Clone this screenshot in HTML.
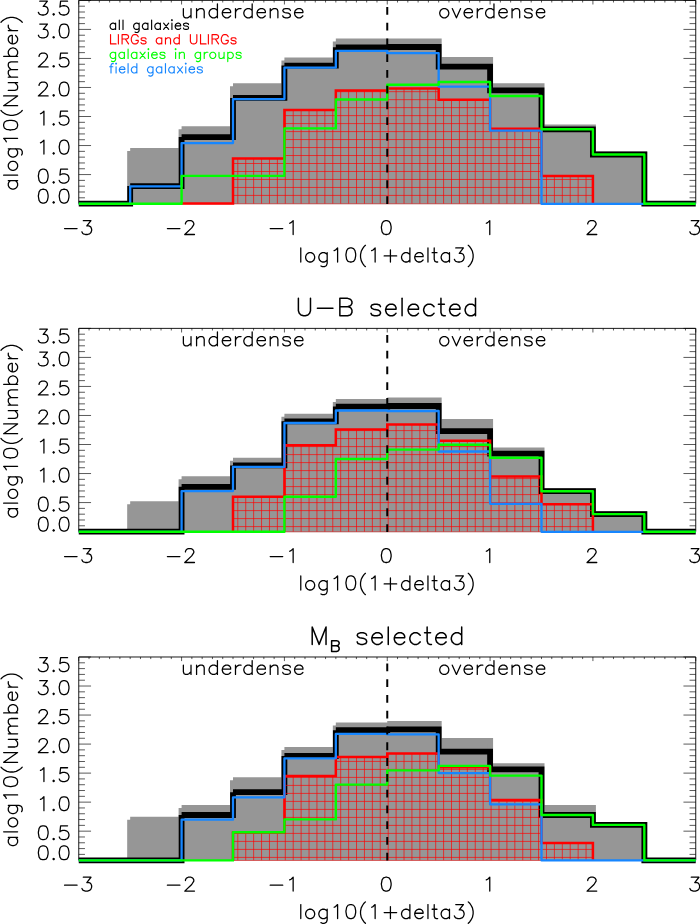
<!DOCTYPE html>
<html><head><meta charset="utf-8"><title>chart</title><style>html,body{margin:0;padding:0;background:#fff;font-family:"Liberation Sans",sans-serif}svg{display:block}</style></head><body>
<svg width="700" height="924" viewBox="0 0 700 924">
<rect width="700" height="924" fill="#fff"/>
<defs>
<clipPath id="cp1"><polygon points="181.59,204.2 181.59,203.6 233,203.6 233,158.5 284.42,158.5 284.42,110.1 335.83,110.1 335.83,90.5 387.25,90.5 387.25,88.5 438.67,88.5 438.67,99.8 490.08,99.8 490.08,128.7 541.5,128.7 541.5,175.9 592.91,175.9 592.91,204.2"/></clipPath>
<clipPath id="fp1"><rect x="0" y="0" width="700" height="206.8"/></clipPath>
<clipPath id="cp2"><polygon points="233,532.2 233,496.8 284.42,496.8 284.42,445.2 335.83,445.2 335.83,429.5 387.25,429.5 387.25,424.4 438.67,424.4 438.67,440.7 490.08,440.7 490.08,476.4 541.5,476.4 541.5,504.2 592.91,504.2 592.91,532.2"/></clipPath>
<clipPath id="fp2"><rect x="0" y="0" width="700" height="534.8"/></clipPath>
<clipPath id="cp3"><polygon points="233,860.8 233,832.5 284.42,832.5 284.42,776 335.83,776 335.83,757 387.25,757 387.25,753.4 438.67,753.4 438.67,767.3 490.08,767.3 490.08,800.1 541.5,800.1 541.5,843 592.91,843 592.91,860.8"/></clipPath>
<clipPath id="fp3"><rect x="0" y="0" width="700" height="863.4"/></clipPath>
<path id="g28" d="M11,-25L9,-23L7,-20L5,-16L4,-11L4,-7L5,-2L7,2L9,5L11,7" vector-effect="non-scaling-stroke" stroke-linecap="round" stroke-linejoin="round"/><path id="g29" d="M3,-25L5,-23L7,-20L9,-16L10,-11L10,-7L9,-2L7,2L5,5L3,7" vector-effect="non-scaling-stroke" stroke-linecap="round" stroke-linejoin="round"/><path id="g2b" d="M4,-9L22,-9M13,-18L13,0" vector-effect="non-scaling-stroke" stroke-linecap="round" stroke-linejoin="round"/><path id="g2d" d="M4,-9L22,-9" vector-effect="non-scaling-stroke" stroke-linecap="round" stroke-linejoin="round"/><path id="g2e" d="M4,-1L5,-2L6,-1L5,0Z" vector-effect="non-scaling-stroke" stroke-linecap="round" stroke-linejoin="round"/><path id="g30" d="M3,-12L3,-10L4,-4L6,-1L9,0L11,0L14,-1L16,-4L17,-9L17,-12L16,-17L14,-20L11,-21L9,-21L6,-20L4,-17L3,-11" vector-effect="non-scaling-stroke" stroke-linecap="round" stroke-linejoin="round"/><path id="g31" d="M6,-17L8,-18L11,-21L11,0" vector-effect="non-scaling-stroke" stroke-linecap="round" stroke-linejoin="round"/><path id="g32" d="M4,-16L4,-17L5,-19L6,-20L8,-21L12,-21L14,-20L15,-19L16,-17L16,-15L13,-10L3,0L17,0" vector-effect="non-scaling-stroke" stroke-linecap="round" stroke-linejoin="round"/><path id="g33" d="M3,-4L4,-2L5,-1L8,0L11,0L14,-1L16,-3L17,-6L17,-8L16,-11L15,-12L13,-13L10,-13L16,-21L5,-21" vector-effect="non-scaling-stroke" stroke-linecap="round" stroke-linejoin="round"/><path id="g35" d="M3,-4L4,-2L5,-1L8,0L11,0L14,-1L16,-3L17,-6L17,-8L16,-11L14,-13L11,-14L8,-14L5,-13L4,-12L5,-21L15,-21" vector-effect="non-scaling-stroke" stroke-linecap="round" stroke-linejoin="round"/><path id="g42" d="M4,-11L13,-11L16,-12L17,-13L18,-15L18,-17L17,-19L16,-20L13,-21L4,-21L4,0L13,0L16,-1L17,-2L18,-4L18,-7L17,-9L16,-10L13,-11" vector-effect="non-scaling-stroke" stroke-linecap="round" stroke-linejoin="round"/><path id="g47" d="M13,-8L18,-8L18,-5L17,-3L15,-1L13,0L9,0L7,-1L5,-3L4,-5L3,-8L3,-13L5,-18L7,-20L9,-21L13,-21L15,-20L17,-18L18,-16" vector-effect="non-scaling-stroke" stroke-linecap="round" stroke-linejoin="round"/><path id="g49" d="M4,-21L4,0" vector-effect="non-scaling-stroke" stroke-linecap="round" stroke-linejoin="round"/><path id="g4c" d="M4,-21L4,0L16,0" vector-effect="non-scaling-stroke" stroke-linecap="round" stroke-linejoin="round"/><path id="g4d" d="M4,0L4,-21L12,0L20,-21L20,0" vector-effect="non-scaling-stroke" stroke-linecap="round" stroke-linejoin="round"/><path id="g4e" d="M4,0L4,-21L18,0L18,-21" vector-effect="non-scaling-stroke" stroke-linecap="round" stroke-linejoin="round"/><path id="g52" d="M4,-11L13,-11L16,-12L17,-13L18,-15L18,-17L17,-19L16,-20L13,-21L4,-21L4,0M11,-11L18,0" vector-effect="non-scaling-stroke" stroke-linecap="round" stroke-linejoin="round"/><path id="g55" d="M4,-21L4,-6L5,-3L7,-1L10,0L12,0L15,-1L17,-3L18,-6L18,-21" vector-effect="non-scaling-stroke" stroke-linecap="round" stroke-linejoin="round"/><path id="g61" d="M15,-14L15,0M15,-11L13,-13L11,-14L8,-14L6,-13L4,-11L3,-8L3,-6L4,-3L6,-1L8,0L11,0L13,-1L15,-3" vector-effect="non-scaling-stroke" stroke-linecap="round" stroke-linejoin="round"/><path id="g62" d="M4,-21L4,0M4,-11L6,-13L8,-14L11,-14L13,-13L15,-11L16,-8L16,-6L15,-3L13,-1L11,0L8,0L6,-1L4,-3" vector-effect="non-scaling-stroke" stroke-linecap="round" stroke-linejoin="round"/><path id="g63" d="M15,-11L13,-13L11,-14L8,-14L6,-13L4,-11L3,-8L3,-6L4,-3L6,-1L8,0L11,0L13,-1L15,-3" vector-effect="non-scaling-stroke" stroke-linecap="round" stroke-linejoin="round"/><path id="g64" d="M15,-21L15,0M15,-11L13,-13L11,-14L8,-14L6,-13L4,-11L3,-8L3,-6L4,-3L6,-1L8,0L11,0L13,-1L15,-3" vector-effect="non-scaling-stroke" stroke-linecap="round" stroke-linejoin="round"/><path id="g65" d="M3,-8L15,-8L15,-10L14,-12L13,-13L11,-14L8,-14L6,-13L4,-11L3,-8L3,-6L4,-3L6,-1L8,0L11,0L13,-1L15,-3" vector-effect="non-scaling-stroke" stroke-linecap="round" stroke-linejoin="round"/><path id="g66" d="M2,-14L9,-14M5,0L5,-17L6,-20L8,-21L10,-21" vector-effect="non-scaling-stroke" stroke-linecap="round" stroke-linejoin="round"/><path id="g67" d="M6,6L8,7L11,7L13,6L14,5L15,2L15,-14M15,-11L13,-13L11,-14L8,-14L6,-13L4,-11L3,-8L3,-6L4,-3L6,-1L8,0L11,0L13,-1L15,-3" vector-effect="non-scaling-stroke" stroke-linecap="round" stroke-linejoin="round"/><path id="g69" d="M4,-14L4,0M3,-21L4,-22L5,-21L4,-20Z" vector-effect="non-scaling-stroke" stroke-linecap="round" stroke-linejoin="round"/><path id="g6c" d="M4,-21L4,0" vector-effect="non-scaling-stroke" stroke-linecap="round" stroke-linejoin="round"/><path id="g6d" d="M4,-14L4,0M4,-10L7,-13L9,-14L12,-14L14,-13L15,-10L15,0M15,-10L18,-13L20,-14L23,-14L25,-13L26,-10L26,0" vector-effect="non-scaling-stroke" stroke-linecap="round" stroke-linejoin="round"/><path id="g6e" d="M4,-14L4,0M4,-10L7,-13L9,-14L12,-14L14,-13L15,-10L15,0" vector-effect="non-scaling-stroke" stroke-linecap="round" stroke-linejoin="round"/><path id="g6f" d="M3,-8L4,-11L6,-13L8,-14L11,-14L13,-13L15,-11L16,-8L16,-6L15,-3L13,-1L11,0L8,0L6,-1L4,-3L3,-6Z" vector-effect="non-scaling-stroke" stroke-linecap="round" stroke-linejoin="round"/><path id="g70" d="M4,-14L4,7M4,-11L6,-13L8,-14L11,-14L13,-13L15,-11L16,-8L16,-6L15,-3L13,-1L11,0L8,0L6,-1L4,-3" vector-effect="non-scaling-stroke" stroke-linecap="round" stroke-linejoin="round"/><path id="g72" d="M4,-14L4,0M4,-8L5,-11L7,-13L9,-14L12,-14" vector-effect="non-scaling-stroke" stroke-linecap="round" stroke-linejoin="round"/><path id="g73" d="M3,-3L4,-1L7,0L10,0L13,-1L14,-3L14,-4L13,-6L11,-7L6,-8L4,-9L3,-11L4,-13L7,-14L10,-14L13,-13L14,-11" vector-effect="non-scaling-stroke" stroke-linecap="round" stroke-linejoin="round"/><path id="g74" d="M2,-14L9,-14M5,-21L5,-4L6,-1L8,0L10,0" vector-effect="non-scaling-stroke" stroke-linecap="round" stroke-linejoin="round"/><path id="g75" d="M4,-14L4,-4L5,-1L7,0L10,0L12,-1L15,-4M15,-14L15,0" vector-effect="non-scaling-stroke" stroke-linecap="round" stroke-linejoin="round"/><path id="g76" d="M2,-14L8,0L14,-14" vector-effect="non-scaling-stroke" stroke-linecap="round" stroke-linejoin="round"/><path id="g78" d="M3,-14L14,0M3,0L14,-14" vector-effect="non-scaling-stroke" stroke-linecap="round" stroke-linejoin="round"/>
</defs>
<g fill="none" stroke="#000">
<path d="M78.76,203.6V0.39H695.74V203.6" fill="none" stroke="#000" stroke-width="0.9"/>
<path d="M78.76,203.6h12.3M695.74,203.6h-12.3M78.76,197.79h6.2M695.74,197.79h-6.2M78.76,191.99h6.2M695.74,191.99h-6.2M78.76,186.18h6.2M695.74,186.18h-6.2M78.76,180.38h6.2M695.74,180.38h-6.2M78.76,174.57h12.3M695.74,174.57h-12.3M78.76,168.76h6.2M695.74,168.76h-6.2M78.76,162.96h6.2M695.74,162.96h-6.2M78.76,157.15h6.2M695.74,157.15h-6.2M78.76,151.35h6.2M695.74,151.35h-6.2M78.76,145.54h12.3M695.74,145.54h-12.3M78.76,139.73h6.2M695.74,139.73h-6.2M78.76,133.93h6.2M695.74,133.93h-6.2M78.76,128.12h6.2M695.74,128.12h-6.2M78.76,122.32h6.2M695.74,122.32h-6.2M78.76,116.51h12.3M695.74,116.51h-12.3M78.76,110.7h6.2M695.74,110.7h-6.2M78.76,104.9h6.2M695.74,104.9h-6.2M78.76,99.09h6.2M695.74,99.09h-6.2M78.76,93.29h6.2M695.74,93.29h-6.2M78.76,87.48h12.3M695.74,87.48h-12.3M78.76,81.67h6.2M695.74,81.67h-6.2M78.76,75.87h6.2M695.74,75.87h-6.2M78.76,70.06h6.2M695.74,70.06h-6.2M78.76,64.26h6.2M695.74,64.26h-6.2M78.76,58.45h12.3M695.74,58.45h-12.3M78.76,52.64h6.2M695.74,52.64h-6.2M78.76,46.84h6.2M695.74,46.84h-6.2M78.76,41.03h6.2M695.74,41.03h-6.2M78.76,35.23h6.2M695.74,35.23h-6.2M78.76,29.42h12.3M695.74,29.42h-12.3M78.76,23.61h6.2M695.74,23.61h-6.2M78.76,17.81h6.2M695.74,17.81h-6.2M78.76,12h6.2M695.74,12h-6.2M78.76,6.2h6.2M695.74,6.2h-6.2M78.76,0.39h12.3M695.74,0.39h-12.3M78.76,0.39v4.1M89.04,0.39v2.1M99.33,0.39v2.1M109.61,0.39v2.1M119.89,0.39v2.1M130.18,0.39v2.1M140.46,0.39v2.1M150.74,0.39v2.1M161.02,0.39v2.1M171.31,0.39v2.1M181.59,0.39v4.1M191.87,0.39v2.1M202.16,0.39v2.1M212.44,0.39v2.1M222.72,0.39v2.1M233,0.39v2.1M243.29,0.39v2.1M253.57,0.39v2.1M263.85,0.39v2.1M274.14,0.39v2.1M284.42,0.39v4.1M294.7,0.39v2.1M304.99,0.39v2.1M315.27,0.39v2.1M325.55,0.39v2.1M335.83,0.39v2.1M346.12,0.39v2.1M356.4,0.39v2.1M366.68,0.39v2.1M376.97,0.39v2.1M387.25,0.39v4.1M397.53,0.39v2.1M407.82,0.39v2.1M418.1,0.39v2.1M428.38,0.39v2.1M438.67,0.39v2.1M448.95,0.39v2.1M459.23,0.39v2.1M469.51,0.39v2.1M479.8,0.39v2.1M490.08,0.39v4.1M500.36,0.39v2.1M510.65,0.39v2.1M520.93,0.39v2.1M531.21,0.39v2.1M541.5,0.39v2.1M551.78,0.39v2.1M562.06,0.39v2.1M572.34,0.39v2.1M582.63,0.39v2.1M592.91,0.39v4.1M603.19,0.39v2.1M613.48,0.39v2.1M623.76,0.39v2.1M634.04,0.39v2.1M644.33,0.39v2.1M654.61,0.39v2.1M664.89,0.39v2.1M675.17,0.39v2.1M685.46,0.39v2.1M695.74,0.39v4.1" stroke="#000" stroke-width="0.65" fill="none"/>
<polygon points="130.18,204.2 130.18,151.1 181.59,151.1 181.59,129.3 233,129.3 233,86.3 284.42,86.3 284.42,60.5 335.83,60.5 335.83,41.4 387.25,41.4 387.25,41.4 438.67,41.4 438.67,59.9 490.08,59.9 490.08,86.3 541.5,86.3 541.5,127.6 592.91,127.6 592.91,154.5 644.33,154.5 644.33,204.2" fill="#969696" stroke="none"/><path d="M130.18,204.2L130.18,151.1M130.18,151.1L181.59,151.1L181.59,129.3M181.59,129.3L233,129.3L233,86.3M233,86.3L284.42,86.3L284.42,60.5M284.42,60.5L335.83,60.5L335.83,41.4M335.83,41.4L387.25,41.4L438.67,41.4L438.67,59.9L490.08,59.9L490.08,86.3L541.5,86.3L541.5,127.6L592.91,127.6L592.91,154.5L644.33,154.5L644.33,204.2" fill="none" stroke="#969696" stroke-width="6" stroke-linejoin="miter"/>
<path d="M78.76,203.7L130.18,203.7L130.18,186.1M130.18,186.1L181.59,186.1L181.59,137.06M181.59,137.06L233,137.06L233,97.96M233,97.96L284.42,97.96L284.42,65.6M284.42,65.6L335.83,65.6L335.83,47.3M335.83,47.3L387.25,47.3L387.25,47M387.25,47L438.67,47L438.67,66.7L490.08,66.7L490.08,90.4L541.5,90.4L541.5,129.3L592.91,129.3L592.91,154.5L644.33,154.5L644.33,203.7L695.74,203.7" fill="none" stroke="#000" stroke-width="5.8" stroke-linejoin="miter"/>
<path clip-path="url(#cp1)" d="M181.59,204H592.91M181.59,195.42H592.91M181.59,187.44H592.91M181.59,179.46H592.91M181.59,171.48H592.91M181.59,163.5H592.91M181.59,155.52H592.91M181.59,147.54H592.91M181.59,139.56H592.91M181.59,131.58H592.91M181.59,123.6H592.91M181.59,115.62H592.91M181.59,107.64H592.91M181.59,99.66H592.91M181.59,91.68H592.91M181.59,83.7H592.91M181.59,75.72H592.91M181.59,67.74H592.91M181.59,59.76H592.91M181.59,51.78H592.91M181.59,43.8H592.91M181.59,35.82H592.91M181.59,27.84H592.91M237.8,203.6V23.6M245.72,203.6V23.6M253.63,203.6V23.6M261.55,203.6V23.6M269.46,203.6V23.6M277.38,203.6V23.6M285.29,203.6V23.6M293.21,203.6V23.6M301.12,203.6V23.6M309.04,203.6V23.6M316.95,203.6V23.6M324.87,203.6V23.6M332.78,203.6V23.6M340.7,203.6V23.6M348.61,203.6V23.6M356.53,203.6V23.6M364.44,203.6V23.6M372.36,203.6V23.6M380.27,203.6V23.6M388.19,203.6V23.6M396.1,203.6V23.6M404.02,203.6V23.6M411.93,203.6V23.6M419.85,203.6V23.6M427.76,203.6V23.6M435.68,203.6V23.6M443.59,203.6V23.6M451.51,203.6V23.6M459.42,203.6V23.6M467.34,203.6V23.6M475.25,203.6V23.6M483.17,203.6V23.6M491.08,203.6V23.6M499,203.6V23.6M506.91,203.6V23.6M514.83,203.6V23.6M522.74,203.6V23.6M530.66,203.6V23.6M538.57,203.6V23.6M546.49,203.6V23.6M554.4,203.6V23.6M562.32,203.6V23.6M570.23,203.6V23.6M578.15,203.6V23.6M586.06,203.6V23.6" stroke="#ff0000" stroke-width="0.75" stroke-opacity="0.9" fill="none"/>
<polyline points="181.59,204.2 181.59,203.6 233,203.6 233,158.5 284.42,158.5 284.42,110.1 335.83,110.1 335.83,90.5 387.25,90.5 387.25,88.5 438.67,88.5 438.67,99.8 490.08,99.8 490.08,128.7 541.5,128.7 541.5,175.9 592.91,175.9 592.91,204.2" fill="none" stroke="#ff0000" stroke-width="2.5" stroke-linejoin="miter"/>
<polyline points="78.76,203.8 130.18,203.8 130.18,186.3 181.59,186.3 181.59,143.1 233,143.1 233,99.1 284.42,99.1 284.42,67.7 335.83,67.7 335.83,50.8 387.25,50.8 387.25,53.2 438.67,53.2 438.67,86.6 490.08,86.6 490.08,130.7 541.5,130.7 541.5,203.8 592.91,203.8 592.91,203.8 644.33,203.8 644.33,203.8 695.74,203.8" fill="none" stroke="#1686ff" stroke-width="2.3" stroke-linejoin="round"/>
<polyline points="78.76,203.8 130.18,203.8 130.18,203.8 181.59,203.8 181.59,175.9 233,175.9 233,175.9 284.42,175.9 284.42,128.4 335.83,128.4 335.83,99.5 387.25,99.5 387.25,84.8 438.67,84.8 438.67,82 490.08,82 490.08,96 541.5,96 541.5,129.3 592.91,129.3 592.91,154.5 644.33,154.5 644.33,203.8 695.74,203.8" fill="none" stroke="#00ff00" stroke-width="2.4" stroke-linejoin="round"/>
<path d="M387.25,6.9V203.9" stroke="#000" stroke-width="2" stroke-dasharray="7.8 7.97" fill="none"/>
<g transform="translate(36.29,203.1) scale(0.695,0.66)" stroke-width="1.27"><use href="#g30" x="0"/><use href="#g2e" x="20"/><use href="#g30" x="30"/></g>
<g transform="translate(36.29,183.07) scale(0.695,0.66)" stroke-width="1.27"><use href="#g30" x="0"/><use href="#g2e" x="20"/><use href="#g35" x="30"/></g>
<g transform="translate(36.29,154.04) scale(0.695,0.66)" stroke-width="1.27"><use href="#g31" x="0"/><use href="#g2e" x="20"/><use href="#g30" x="30"/></g>
<g transform="translate(36.29,125.01) scale(0.695,0.66)" stroke-width="1.27"><use href="#g31" x="0"/><use href="#g2e" x="20"/><use href="#g35" x="30"/></g>
<g transform="translate(36.29,95.98) scale(0.695,0.66)" stroke-width="1.27"><use href="#g32" x="0"/><use href="#g2e" x="20"/><use href="#g30" x="30"/></g>
<g transform="translate(36.29,66.95) scale(0.695,0.66)" stroke-width="1.27"><use href="#g32" x="0"/><use href="#g2e" x="20"/><use href="#g35" x="30"/></g>
<g transform="translate(36.29,37.92) scale(0.695,0.66)" stroke-width="1.27"><use href="#g33" x="0"/><use href="#g2e" x="20"/><use href="#g30" x="30"/></g>
<g transform="translate(36.29,14.99) scale(0.695,0.66)" stroke-width="1.27"><use href="#g33" x="0"/><use href="#g2e" x="20"/><use href="#g35" x="30"/></g>
<g transform="translate(77.76,234.5) scale(0.695,0.66)" stroke-width="1.27"><use href="#g2d" x="-23"/><use href="#g33" x="3"/></g>
<g transform="translate(180.59,234.5) scale(0.695,0.66)" stroke-width="1.27"><use href="#g2d" x="-23"/><use href="#g32" x="3"/></g>
<g transform="translate(283.42,234.5) scale(0.695,0.66)" stroke-width="1.27"><use href="#g2d" x="-23"/><use href="#g31" x="3"/></g>
<g transform="translate(386.25,234.5) scale(0.695,0.66)" stroke-width="1.27"><use href="#g30" x="-10"/></g>
<g transform="translate(489.08,234.5) scale(0.695,0.66)" stroke-width="1.27"><use href="#g31" x="-10"/></g>
<g transform="translate(591.91,234.5) scale(0.695,0.66)" stroke-width="1.27"><use href="#g32" x="-10"/></g>
<g transform="translate(694.74,234.5) scale(0.695,0.66)" stroke-width="1.27"><use href="#g33" x="-10"/></g>
<g transform="translate(386.95,262) scale(0.695,0.668)" stroke-width="1.27"><use href="#g6c" x="-128"/><use href="#g6f" x="-120"/><use href="#g67" x="-101"/><use href="#g31" x="-82"/><use href="#g30" x="-62"/><use href="#g28" x="-42"/><use href="#g31" x="-28"/><use href="#g2b" x="-8"/><use href="#g64" x="18"/><use href="#g65" x="37"/><use href="#g6c" x="55"/><use href="#g74" x="63"/><use href="#g61" x="75"/><use href="#g33" x="94"/><use href="#g29" x="114"/></g>
<g transform="translate(17.6,102.89) rotate(-90) scale(0.695,0.665)" stroke-width="1.27"><use href="#g61" x="-127"/><use href="#g6c" x="-108"/><use href="#g6f" x="-100"/><use href="#g67" x="-81"/><use href="#g31" x="-62"/><use href="#g30" x="-42"/><use href="#g28" x="-22"/><use href="#g4e" x="-8"/><use href="#g75" x="14"/><use href="#g6d" x="33"/><use href="#g62" x="63"/><use href="#g65" x="82"/><use href="#g72" x="100"/><use href="#g29" x="113"/></g>
<g transform="translate(180.59,17.81) scale(0.695,0.66)" stroke-width="1.27"><use href="#g75" x="0"/><use href="#g6e" x="19"/><use href="#g64" x="38"/><use href="#g65" x="57"/><use href="#g72" x="75"/><use href="#g64" x="88"/><use href="#g65" x="107"/><use href="#g6e" x="125"/><use href="#g73" x="144"/><use href="#g65" x="161"/></g>
<g transform="translate(437.67,17.81) scale(0.695,0.66)" stroke-width="1.27"><use href="#g6f" x="0"/><use href="#g76" x="19"/><use href="#g65" x="35"/><use href="#g72" x="53"/><use href="#g64" x="66"/><use href="#g65" x="85"/><use href="#g6e" x="103"/><use href="#g73" x="122"/><use href="#g65" x="139"/></g>
<path d="M78.76,531.6V328.39H695.74V531.6" fill="none" stroke="#000" stroke-width="0.9"/>
<path d="M78.76,531.6h12.3M695.74,531.6h-12.3M78.76,525.79h6.2M695.74,525.79h-6.2M78.76,519.99h6.2M695.74,519.99h-6.2M78.76,514.18h6.2M695.74,514.18h-6.2M78.76,508.38h6.2M695.74,508.38h-6.2M78.76,502.57h12.3M695.74,502.57h-12.3M78.76,496.76h6.2M695.74,496.76h-6.2M78.76,490.96h6.2M695.74,490.96h-6.2M78.76,485.15h6.2M695.74,485.15h-6.2M78.76,479.35h6.2M695.74,479.35h-6.2M78.76,473.54h12.3M695.74,473.54h-12.3M78.76,467.73h6.2M695.74,467.73h-6.2M78.76,461.93h6.2M695.74,461.93h-6.2M78.76,456.12h6.2M695.74,456.12h-6.2M78.76,450.32h6.2M695.74,450.32h-6.2M78.76,444.51h12.3M695.74,444.51h-12.3M78.76,438.7h6.2M695.74,438.7h-6.2M78.76,432.9h6.2M695.74,432.9h-6.2M78.76,427.09h6.2M695.74,427.09h-6.2M78.76,421.29h6.2M695.74,421.29h-6.2M78.76,415.48h12.3M695.74,415.48h-12.3M78.76,409.67h6.2M695.74,409.67h-6.2M78.76,403.87h6.2M695.74,403.87h-6.2M78.76,398.06h6.2M695.74,398.06h-6.2M78.76,392.26h6.2M695.74,392.26h-6.2M78.76,386.45h12.3M695.74,386.45h-12.3M78.76,380.64h6.2M695.74,380.64h-6.2M78.76,374.84h6.2M695.74,374.84h-6.2M78.76,369.03h6.2M695.74,369.03h-6.2M78.76,363.23h6.2M695.74,363.23h-6.2M78.76,357.42h12.3M695.74,357.42h-12.3M78.76,351.61h6.2M695.74,351.61h-6.2M78.76,345.81h6.2M695.74,345.81h-6.2M78.76,340h6.2M695.74,340h-6.2M78.76,334.2h6.2M695.74,334.2h-6.2M78.76,328.39h12.3M695.74,328.39h-12.3M78.76,328.39v4.1M89.04,328.39v2.1M99.33,328.39v2.1M109.61,328.39v2.1M119.89,328.39v2.1M130.18,328.39v2.1M140.46,328.39v2.1M150.74,328.39v2.1M161.02,328.39v2.1M171.31,328.39v2.1M181.59,328.39v4.1M191.87,328.39v2.1M202.16,328.39v2.1M212.44,328.39v2.1M222.72,328.39v2.1M233,328.39v2.1M243.29,328.39v2.1M253.57,328.39v2.1M263.85,328.39v2.1M274.14,328.39v2.1M284.42,328.39v4.1M294.7,328.39v2.1M304.99,328.39v2.1M315.27,328.39v2.1M325.55,328.39v2.1M335.83,328.39v2.1M346.12,328.39v2.1M356.4,328.39v2.1M366.68,328.39v2.1M376.97,328.39v2.1M387.25,328.39v4.1M397.53,328.39v2.1M407.82,328.39v2.1M418.1,328.39v2.1M428.38,328.39v2.1M438.67,328.39v2.1M448.95,328.39v2.1M459.23,328.39v2.1M469.51,328.39v2.1M479.8,328.39v2.1M490.08,328.39v4.1M500.36,328.39v2.1M510.65,328.39v2.1M520.93,328.39v2.1M531.21,328.39v2.1M541.5,328.39v2.1M551.78,328.39v2.1M562.06,328.39v2.1M572.34,328.39v2.1M582.63,328.39v2.1M592.91,328.39v4.1M603.19,328.39v2.1M613.48,328.39v2.1M623.76,328.39v2.1M634.04,328.39v2.1M644.33,328.39v2.1M654.61,328.39v2.1M664.89,328.39v2.1M675.17,328.39v2.1M685.46,328.39v2.1M695.74,328.39v4.1" stroke="#000" stroke-width="0.65" fill="none"/>
<polygon points="130.18,532.2 130.18,504.2 181.59,504.2 181.59,479.3 233,479.3 233,460.8 284.42,460.8 284.42,416.8 335.83,416.8 335.83,401.9 387.25,401.9 387.25,400.6 438.67,400.6 438.67,421.9 490.08,421.9 490.08,450.4 541.5,450.4 541.5,491.2 592.91,491.2 592.91,514.2 644.33,514.2 644.33,532.2" fill="#969696" stroke="none"/><path d="M130.18,532.2L130.18,504.2M130.18,504.2L181.59,504.2L181.59,479.3M181.59,479.3L233,479.3L233,460.8M233,460.8L284.42,460.8L284.42,416.8M284.42,416.8L335.83,416.8L335.83,401.9M335.83,401.9L387.25,401.9L387.25,400.6M387.25,400.6L438.67,400.6L438.67,421.9L490.08,421.9L490.08,450.4L541.5,450.4L541.5,491.2L592.91,491.2L592.91,514.2L644.33,514.2L644.33,532.2" fill="none" stroke="#969696" stroke-width="6" stroke-linejoin="miter"/>
<path d="M78.76,531.7L130.18,531.7L181.59,531.7L181.59,486.8M181.59,486.8L233,486.8L233,465.4M233,465.4L284.42,465.4L284.42,421.3M284.42,421.3L335.83,421.3L335.83,406.6M335.83,406.6L387.25,406.6L387.25,406M387.25,406L438.67,406L438.67,431.2L490.08,431.2L490.08,453.6L541.5,453.6L541.5,491.2L592.91,491.2L592.91,514.1L644.33,514.1L644.33,531.7L695.74,531.7" fill="none" stroke="#000" stroke-width="5.8" stroke-linejoin="miter"/>
<path clip-path="url(#cp2)" d="M181.59,532H592.91M181.59,526.6H592.91M181.59,518.6H592.91M181.59,510.6H592.91M181.59,502.6H592.91M181.59,494.6H592.91M181.59,486.6H592.91M181.59,478.6H592.91M181.59,470.6H592.91M181.59,462.6H592.91M181.59,454.6H592.91M181.59,446.6H592.91M181.59,438.6H592.91M181.59,430.6H592.91M181.59,422.6H592.91M181.59,414.6H592.91M181.59,406.6H592.91M181.59,398.6H592.91M181.59,390.6H592.91M181.59,382.6H592.91M181.59,374.6H592.91M181.59,366.6H592.91M181.59,358.6H592.91M237.8,531.6V351.6M245.72,531.6V351.6M253.63,531.6V351.6M261.55,531.6V351.6M269.46,531.6V351.6M277.38,531.6V351.6M285.29,531.6V351.6M293.21,531.6V351.6M301.12,531.6V351.6M309.04,531.6V351.6M316.95,531.6V351.6M324.87,531.6V351.6M332.78,531.6V351.6M340.7,531.6V351.6M348.61,531.6V351.6M356.53,531.6V351.6M364.44,531.6V351.6M372.36,531.6V351.6M380.27,531.6V351.6M388.19,531.6V351.6M396.1,531.6V351.6M404.02,531.6V351.6M411.93,531.6V351.6M419.85,531.6V351.6M427.76,531.6V351.6M435.68,531.6V351.6M443.59,531.6V351.6M451.51,531.6V351.6M459.42,531.6V351.6M467.34,531.6V351.6M475.25,531.6V351.6M483.17,531.6V351.6M491.08,531.6V351.6M499,531.6V351.6M506.91,531.6V351.6M514.83,531.6V351.6M522.74,531.6V351.6M530.66,531.6V351.6M538.57,531.6V351.6M546.49,531.6V351.6M554.4,531.6V351.6M562.32,531.6V351.6M570.23,531.6V351.6M578.15,531.6V351.6M586.06,531.6V351.6" stroke="#ff0000" stroke-width="0.75" stroke-opacity="0.9" fill="none"/>
<polyline points="233,532.2 233,496.8 284.42,496.8 284.42,445.2 335.83,445.2 335.83,429.5 387.25,429.5 387.25,424.4 438.67,424.4 438.67,440.7 490.08,440.7 490.08,476.4 541.5,476.4 541.5,504.2 592.91,504.2 592.91,532.2" fill="none" stroke="#ff0000" stroke-width="2.5" stroke-linejoin="miter"/>
<polyline points="78.76,531.8 130.18,531.8 130.18,531.8 181.59,531.8 181.59,491.1 233,491.1 233,466.8 284.42,466.8 284.42,423 335.83,423 335.83,410.5 387.25,410.5 387.25,411 438.67,411 438.67,451.5 490.08,451.5 490.08,503.8 541.5,503.8 541.5,531.8 592.91,531.8 592.91,531.8 644.33,531.8 644.33,531.8 695.74,531.8" fill="none" stroke="#1686ff" stroke-width="2.3" stroke-linejoin="round"/>
<polyline points="78.76,531.8 130.18,531.8 130.18,531.8 181.59,531.8 181.59,531.8 233,531.8 233,531.8 284.42,531.8 284.42,496.8 335.83,496.8 335.83,459 387.25,459 387.25,449.6 438.67,449.6 438.67,444.8 490.08,444.8 490.08,457.7 541.5,457.7 541.5,491.2 592.91,491.2 592.91,514.1 644.33,514.1 644.33,531.8 695.74,531.8" fill="none" stroke="#00ff00" stroke-width="2.4" stroke-linejoin="round"/>
<path d="M387.25,334.9V531.9" stroke="#000" stroke-width="2" stroke-dasharray="7.8 7.97" fill="none"/>
<g transform="translate(36.29,531.1) scale(0.695,0.66)" stroke-width="1.27"><use href="#g30" x="0"/><use href="#g2e" x="20"/><use href="#g30" x="30"/></g>
<g transform="translate(36.29,511.07) scale(0.695,0.66)" stroke-width="1.27"><use href="#g30" x="0"/><use href="#g2e" x="20"/><use href="#g35" x="30"/></g>
<g transform="translate(36.29,482.04) scale(0.695,0.66)" stroke-width="1.27"><use href="#g31" x="0"/><use href="#g2e" x="20"/><use href="#g30" x="30"/></g>
<g transform="translate(36.29,453.01) scale(0.695,0.66)" stroke-width="1.27"><use href="#g31" x="0"/><use href="#g2e" x="20"/><use href="#g35" x="30"/></g>
<g transform="translate(36.29,423.98) scale(0.695,0.66)" stroke-width="1.27"><use href="#g32" x="0"/><use href="#g2e" x="20"/><use href="#g30" x="30"/></g>
<g transform="translate(36.29,394.95) scale(0.695,0.66)" stroke-width="1.27"><use href="#g32" x="0"/><use href="#g2e" x="20"/><use href="#g35" x="30"/></g>
<g transform="translate(36.29,365.92) scale(0.695,0.66)" stroke-width="1.27"><use href="#g33" x="0"/><use href="#g2e" x="20"/><use href="#g30" x="30"/></g>
<g transform="translate(36.29,342.99) scale(0.695,0.66)" stroke-width="1.27"><use href="#g33" x="0"/><use href="#g2e" x="20"/><use href="#g35" x="30"/></g>
<g transform="translate(77.76,562.5) scale(0.695,0.66)" stroke-width="1.27"><use href="#g2d" x="-23"/><use href="#g33" x="3"/></g>
<g transform="translate(180.59,562.5) scale(0.695,0.66)" stroke-width="1.27"><use href="#g2d" x="-23"/><use href="#g32" x="3"/></g>
<g transform="translate(283.42,562.5) scale(0.695,0.66)" stroke-width="1.27"><use href="#g2d" x="-23"/><use href="#g31" x="3"/></g>
<g transform="translate(386.25,562.5) scale(0.695,0.66)" stroke-width="1.27"><use href="#g30" x="-10"/></g>
<g transform="translate(489.08,562.5) scale(0.695,0.66)" stroke-width="1.27"><use href="#g31" x="-10"/></g>
<g transform="translate(591.91,562.5) scale(0.695,0.66)" stroke-width="1.27"><use href="#g32" x="-10"/></g>
<g transform="translate(694.74,562.5) scale(0.695,0.66)" stroke-width="1.27"><use href="#g33" x="-10"/></g>
<g transform="translate(386.95,590) scale(0.695,0.668)" stroke-width="1.27"><use href="#g6c" x="-128"/><use href="#g6f" x="-120"/><use href="#g67" x="-101"/><use href="#g31" x="-82"/><use href="#g30" x="-62"/><use href="#g28" x="-42"/><use href="#g31" x="-28"/><use href="#g2b" x="-8"/><use href="#g64" x="18"/><use href="#g65" x="37"/><use href="#g6c" x="55"/><use href="#g74" x="63"/><use href="#g61" x="75"/><use href="#g33" x="94"/><use href="#g29" x="114"/></g>
<g transform="translate(17.6,430.89) rotate(-90) scale(0.695,0.665)" stroke-width="1.27"><use href="#g61" x="-127"/><use href="#g6c" x="-108"/><use href="#g6f" x="-100"/><use href="#g67" x="-81"/><use href="#g31" x="-62"/><use href="#g30" x="-42"/><use href="#g28" x="-22"/><use href="#g4e" x="-8"/><use href="#g75" x="14"/><use href="#g6d" x="33"/><use href="#g62" x="63"/><use href="#g65" x="82"/><use href="#g72" x="100"/><use href="#g29" x="113"/></g>
<g transform="translate(180.59,345.81) scale(0.695,0.66)" stroke-width="1.27"><use href="#g75" x="0"/><use href="#g6e" x="19"/><use href="#g64" x="38"/><use href="#g65" x="57"/><use href="#g72" x="75"/><use href="#g64" x="88"/><use href="#g65" x="107"/><use href="#g6e" x="125"/><use href="#g73" x="144"/><use href="#g65" x="161"/></g>
<g transform="translate(437.67,345.81) scale(0.695,0.66)" stroke-width="1.27"><use href="#g6f" x="0"/><use href="#g76" x="19"/><use href="#g65" x="35"/><use href="#g72" x="53"/><use href="#g64" x="66"/><use href="#g65" x="85"/><use href="#g6e" x="103"/><use href="#g73" x="122"/><use href="#g65" x="139"/></g>
<path d="M78.76,860.2V656.99H695.74V860.2" fill="none" stroke="#000" stroke-width="0.9"/>
<path d="M78.76,860.2h12.3M695.74,860.2h-12.3M78.76,854.39h6.2M695.74,854.39h-6.2M78.76,848.59h6.2M695.74,848.59h-6.2M78.76,842.78h6.2M695.74,842.78h-6.2M78.76,836.98h6.2M695.74,836.98h-6.2M78.76,831.17h12.3M695.74,831.17h-12.3M78.76,825.36h6.2M695.74,825.36h-6.2M78.76,819.56h6.2M695.74,819.56h-6.2M78.76,813.75h6.2M695.74,813.75h-6.2M78.76,807.95h6.2M695.74,807.95h-6.2M78.76,802.14h12.3M695.74,802.14h-12.3M78.76,796.33h6.2M695.74,796.33h-6.2M78.76,790.53h6.2M695.74,790.53h-6.2M78.76,784.72h6.2M695.74,784.72h-6.2M78.76,778.92h6.2M695.74,778.92h-6.2M78.76,773.11h12.3M695.74,773.11h-12.3M78.76,767.3h6.2M695.74,767.3h-6.2M78.76,761.5h6.2M695.74,761.5h-6.2M78.76,755.69h6.2M695.74,755.69h-6.2M78.76,749.89h6.2M695.74,749.89h-6.2M78.76,744.08h12.3M695.74,744.08h-12.3M78.76,738.27h6.2M695.74,738.27h-6.2M78.76,732.47h6.2M695.74,732.47h-6.2M78.76,726.66h6.2M695.74,726.66h-6.2M78.76,720.86h6.2M695.74,720.86h-6.2M78.76,715.05h12.3M695.74,715.05h-12.3M78.76,709.24h6.2M695.74,709.24h-6.2M78.76,703.44h6.2M695.74,703.44h-6.2M78.76,697.63h6.2M695.74,697.63h-6.2M78.76,691.83h6.2M695.74,691.83h-6.2M78.76,686.02h12.3M695.74,686.02h-12.3M78.76,680.21h6.2M695.74,680.21h-6.2M78.76,674.41h6.2M695.74,674.41h-6.2M78.76,668.6h6.2M695.74,668.6h-6.2M78.76,662.8h6.2M695.74,662.8h-6.2M78.76,656.99h12.3M695.74,656.99h-12.3M78.76,656.99v4.1M89.04,656.99v2.1M99.33,656.99v2.1M109.61,656.99v2.1M119.89,656.99v2.1M130.18,656.99v2.1M140.46,656.99v2.1M150.74,656.99v2.1M161.02,656.99v2.1M171.31,656.99v2.1M181.59,656.99v4.1M191.87,656.99v2.1M202.16,656.99v2.1M212.44,656.99v2.1M222.72,656.99v2.1M233,656.99v2.1M243.29,656.99v2.1M253.57,656.99v2.1M263.85,656.99v2.1M274.14,656.99v2.1M284.42,656.99v4.1M294.7,656.99v2.1M304.99,656.99v2.1M315.27,656.99v2.1M325.55,656.99v2.1M335.83,656.99v2.1M346.12,656.99v2.1M356.4,656.99v2.1M366.68,656.99v2.1M376.97,656.99v2.1M387.25,656.99v4.1M397.53,656.99v2.1M407.82,656.99v2.1M418.1,656.99v2.1M428.38,656.99v2.1M438.67,656.99v2.1M448.95,656.99v2.1M459.23,656.99v2.1M469.51,656.99v2.1M479.8,656.99v2.1M490.08,656.99v4.1M500.36,656.99v2.1M510.65,656.99v2.1M520.93,656.99v2.1M531.21,656.99v2.1M541.5,656.99v2.1M551.78,656.99v2.1M562.06,656.99v2.1M572.34,656.99v2.1M582.63,656.99v2.1M592.91,656.99v4.1M603.19,656.99v2.1M613.48,656.99v2.1M623.76,656.99v2.1M634.04,656.99v2.1M644.33,656.99v2.1M654.61,656.99v2.1M664.89,656.99v2.1M675.17,656.99v2.1M685.46,656.99v2.1M695.74,656.99v4.1" stroke="#000" stroke-width="0.65" fill="none"/>
<polygon points="130.18,860.8 130.18,819.7 181.59,819.7 181.59,808.1 233,808.1 233,780.2 284.42,780.2 284.42,750.1 335.83,750.1 335.83,725.6 387.25,725.6 387.25,724.1 438.67,724.1 438.67,741.1 490.08,741.1 490.08,766.3 541.5,766.3 541.5,807.9 592.91,807.9 592.91,824.9 644.33,824.9 644.33,860.8" fill="#969696" stroke="none"/><path d="M130.18,860.8L130.18,819.7M130.18,819.7L181.59,819.7L181.59,808.1M181.59,808.1L233,808.1L233,780.2M233,780.2L284.42,780.2L284.42,750.1M284.42,750.1L335.83,750.1L335.83,725.6M335.83,725.6L387.25,725.6L387.25,724.1M387.25,724.1L438.67,724.1L438.67,741.1L490.08,741.1L490.08,766.3L541.5,766.3L541.5,807.9L592.91,807.9L592.91,824.9L644.33,824.9L644.33,860.8" fill="none" stroke="#969696" stroke-width="6" stroke-linejoin="miter"/>
<path d="M78.76,860.3L130.18,860.3L181.59,860.3L181.59,815M181.59,815L233,815L233,792.2M233,792.2L284.42,792.2L284.42,756M284.42,756L335.83,756L335.83,730.2M335.83,730.2L387.25,730.2L387.25,729.3M387.25,729.3L438.67,729.3L438.67,751.7L490.08,751.7L490.08,769.4L541.5,769.4L541.5,815L592.91,815L592.91,824.9L644.33,824.9L644.33,860.3L695.74,860.3" fill="none" stroke="#000" stroke-width="5.8" stroke-linejoin="miter"/>
<path clip-path="url(#cp3)" d="M181.59,860.6H592.91M181.59,857.4H592.91M181.59,849.4H592.91M181.59,841.4H592.91M181.59,833.4H592.91M181.59,825.4H592.91M181.59,817.4H592.91M181.59,809.4H592.91M181.59,801.4H592.91M181.59,793.4H592.91M181.59,785.4H592.91M181.59,777.4H592.91M181.59,769.4H592.91M181.59,761.4H592.91M181.59,753.4H592.91M181.59,745.4H592.91M181.59,737.4H592.91M181.59,729.4H592.91M181.59,721.4H592.91M181.59,713.4H592.91M181.59,705.4H592.91M181.59,697.4H592.91M181.59,689.4H592.91M181.59,681.4H592.91M237.8,860.2V680.2M245.72,860.2V680.2M253.63,860.2V680.2M261.55,860.2V680.2M269.46,860.2V680.2M277.38,860.2V680.2M285.29,860.2V680.2M293.21,860.2V680.2M301.12,860.2V680.2M309.04,860.2V680.2M316.95,860.2V680.2M324.87,860.2V680.2M332.78,860.2V680.2M340.7,860.2V680.2M348.61,860.2V680.2M356.53,860.2V680.2M364.44,860.2V680.2M372.36,860.2V680.2M380.27,860.2V680.2M388.19,860.2V680.2M396.1,860.2V680.2M404.02,860.2V680.2M411.93,860.2V680.2M419.85,860.2V680.2M427.76,860.2V680.2M435.68,860.2V680.2M443.59,860.2V680.2M451.51,860.2V680.2M459.42,860.2V680.2M467.34,860.2V680.2M475.25,860.2V680.2M483.17,860.2V680.2M491.08,860.2V680.2M499,860.2V680.2M506.91,860.2V680.2M514.83,860.2V680.2M522.74,860.2V680.2M530.66,860.2V680.2M538.57,860.2V680.2M546.49,860.2V680.2M554.4,860.2V680.2M562.32,860.2V680.2M570.23,860.2V680.2M578.15,860.2V680.2M586.06,860.2V680.2" stroke="#ff0000" stroke-width="0.75" stroke-opacity="0.9" fill="none"/>
<polyline points="233,860.8 233,832.5 284.42,832.5 284.42,776 335.83,776 335.83,757 387.25,757 387.25,753.4 438.67,753.4 438.67,767.3 490.08,767.3 490.08,800.1 541.5,800.1 541.5,843 592.91,843 592.91,860.8" fill="none" stroke="#ff0000" stroke-width="2.5" stroke-linejoin="miter"/>
<polyline points="78.76,860.4 130.18,860.4 130.18,860.4 181.59,860.4 181.59,819.7 233,819.7 233,797.4 284.42,797.4 284.42,758.3 335.83,758.3 335.83,733.9 387.25,733.9 387.25,734.4 438.67,734.4 438.67,773.1 490.08,773.1 490.08,804.4 541.5,804.4 541.5,860.4 592.91,860.4 592.91,860.4 644.33,860.4 644.33,860.4 695.74,860.4" fill="none" stroke="#1686ff" stroke-width="2.3" stroke-linejoin="round"/>
<polyline points="78.76,860.4 130.18,860.4 130.18,860.4 181.59,860.4 181.59,860.4 233,860.4 233,832.3 284.42,832.3 284.42,819.4 335.83,819.4 335.83,784.65 387.25,784.65 387.25,770.4 438.67,770.4 438.67,765.9 490.08,765.9 490.08,775.6 541.5,775.6 541.5,815 592.91,815 592.91,824.9 644.33,824.9 644.33,860.4 695.74,860.4" fill="none" stroke="#00ff00" stroke-width="2.4" stroke-linejoin="round"/>
<path d="M387.25,663.5V860.5" stroke="#000" stroke-width="2" stroke-dasharray="7.8 7.97" fill="none"/>
<g transform="translate(36.29,859.7) scale(0.695,0.66)" stroke-width="1.27"><use href="#g30" x="0"/><use href="#g2e" x="20"/><use href="#g30" x="30"/></g>
<g transform="translate(36.29,839.67) scale(0.695,0.66)" stroke-width="1.27"><use href="#g30" x="0"/><use href="#g2e" x="20"/><use href="#g35" x="30"/></g>
<g transform="translate(36.29,810.64) scale(0.695,0.66)" stroke-width="1.27"><use href="#g31" x="0"/><use href="#g2e" x="20"/><use href="#g30" x="30"/></g>
<g transform="translate(36.29,781.61) scale(0.695,0.66)" stroke-width="1.27"><use href="#g31" x="0"/><use href="#g2e" x="20"/><use href="#g35" x="30"/></g>
<g transform="translate(36.29,752.58) scale(0.695,0.66)" stroke-width="1.27"><use href="#g32" x="0"/><use href="#g2e" x="20"/><use href="#g30" x="30"/></g>
<g transform="translate(36.29,723.55) scale(0.695,0.66)" stroke-width="1.27"><use href="#g32" x="0"/><use href="#g2e" x="20"/><use href="#g35" x="30"/></g>
<g transform="translate(36.29,694.52) scale(0.695,0.66)" stroke-width="1.27"><use href="#g33" x="0"/><use href="#g2e" x="20"/><use href="#g30" x="30"/></g>
<g transform="translate(36.29,671.59) scale(0.695,0.66)" stroke-width="1.27"><use href="#g33" x="0"/><use href="#g2e" x="20"/><use href="#g35" x="30"/></g>
<g transform="translate(77.76,891.1) scale(0.695,0.66)" stroke-width="1.27"><use href="#g2d" x="-23"/><use href="#g33" x="3"/></g>
<g transform="translate(180.59,891.1) scale(0.695,0.66)" stroke-width="1.27"><use href="#g2d" x="-23"/><use href="#g32" x="3"/></g>
<g transform="translate(283.42,891.1) scale(0.695,0.66)" stroke-width="1.27"><use href="#g2d" x="-23"/><use href="#g31" x="3"/></g>
<g transform="translate(386.25,891.1) scale(0.695,0.66)" stroke-width="1.27"><use href="#g30" x="-10"/></g>
<g transform="translate(489.08,891.1) scale(0.695,0.66)" stroke-width="1.27"><use href="#g31" x="-10"/></g>
<g transform="translate(591.91,891.1) scale(0.695,0.66)" stroke-width="1.27"><use href="#g32" x="-10"/></g>
<g transform="translate(694.74,891.1) scale(0.695,0.66)" stroke-width="1.27"><use href="#g33" x="-10"/></g>
<g transform="translate(386.95,918.6) scale(0.695,0.668)" stroke-width="1.27"><use href="#g6c" x="-128"/><use href="#g6f" x="-120"/><use href="#g67" x="-101"/><use href="#g31" x="-82"/><use href="#g30" x="-62"/><use href="#g28" x="-42"/><use href="#g31" x="-28"/><use href="#g2b" x="-8"/><use href="#g64" x="18"/><use href="#g65" x="37"/><use href="#g6c" x="55"/><use href="#g74" x="63"/><use href="#g61" x="75"/><use href="#g33" x="94"/><use href="#g29" x="114"/></g>
<g transform="translate(17.6,759.5) rotate(-90) scale(0.695,0.665)" stroke-width="1.27"><use href="#g61" x="-127"/><use href="#g6c" x="-108"/><use href="#g6f" x="-100"/><use href="#g67" x="-81"/><use href="#g31" x="-62"/><use href="#g30" x="-42"/><use href="#g28" x="-22"/><use href="#g4e" x="-8"/><use href="#g75" x="14"/><use href="#g6d" x="33"/><use href="#g62" x="63"/><use href="#g65" x="82"/><use href="#g72" x="100"/><use href="#g29" x="113"/></g>
<g transform="translate(180.59,674.41) scale(0.695,0.66)" stroke-width="1.27"><use href="#g75" x="0"/><use href="#g6e" x="19"/><use href="#g64" x="38"/><use href="#g65" x="57"/><use href="#g72" x="75"/><use href="#g64" x="88"/><use href="#g65" x="107"/><use href="#g6e" x="125"/><use href="#g73" x="144"/><use href="#g65" x="161"/></g>
<g transform="translate(437.67,674.41) scale(0.695,0.66)" stroke-width="1.27"><use href="#g6f" x="0"/><use href="#g76" x="19"/><use href="#g65" x="35"/><use href="#g72" x="53"/><use href="#g64" x="66"/><use href="#g65" x="85"/><use href="#g6e" x="103"/><use href="#g73" x="122"/><use href="#g65" x="139"/></g>
<g transform="translate(108.7,29.42) scale(0.4615,0.445)" stroke-width="1.15"><use href="#g61" x="0"/><use href="#g6c" x="19"/><use href="#g6c" x="27"/><use href="#g67" x="51"/><use href="#g61" x="70"/><use href="#g6c" x="89"/><use href="#g61" x="97"/><use href="#g78" x="116"/><use href="#g69" x="133"/><use href="#g65" x="141"/><use href="#g73" x="159"/></g>
<g transform="translate(108.7,43.93) scale(0.4615,0.445)" stroke-width="1.15" stroke="#ff0000"><use href="#g4c" x="0"/><use href="#g49" x="17"/><use href="#g52" x="25"/><use href="#g47" x="46"/><use href="#g73" x="67"/><use href="#g61" x="100"/><use href="#g6e" x="119"/><use href="#g64" x="138"/><use href="#g55" x="173"/><use href="#g4c" x="195"/><use href="#g49" x="212"/><use href="#g52" x="220"/><use href="#g47" x="241"/><use href="#g73" x="262"/></g>
<g transform="translate(108.7,58.45) scale(0.4615,0.445)" stroke-width="1.15" stroke="#00ff00"><use href="#g67" x="0"/><use href="#g61" x="19"/><use href="#g6c" x="38"/><use href="#g61" x="46"/><use href="#g78" x="65"/><use href="#g69" x="82"/><use href="#g65" x="90"/><use href="#g73" x="108"/><use href="#g69" x="141"/><use href="#g6e" x="149"/><use href="#g67" x="184"/><use href="#g72" x="203"/><use href="#g6f" x="216"/><use href="#g75" x="235"/><use href="#g70" x="254"/><use href="#g73" x="273"/></g>
<g transform="translate(108.7,72.97) scale(0.4615,0.445)" stroke-width="1.15" stroke="#1686ff"><use href="#g66" x="0"/><use href="#g69" x="12"/><use href="#g65" x="20"/><use href="#g6c" x="38"/><use href="#g64" x="46"/><use href="#g67" x="81"/><use href="#g61" x="100"/><use href="#g6c" x="119"/><use href="#g61" x="127"/><use href="#g78" x="146"/><use href="#g69" x="163"/><use href="#g65" x="171"/><use href="#g73" x="189"/></g>
<g transform="translate(386.95,315.79) scale(0.864,0.83)" stroke-width="1.5"><use href="#g55" x="-106.5"/><use href="#g2d" x="-84.5"/><use href="#g42" x="-58.5"/><use href="#g73" x="-21.5"/><use href="#g65" x="-4.5"/><use href="#g6c" x="13.5"/><use href="#g65" x="21.5"/><use href="#g63" x="39.5"/><use href="#g74" x="57.5"/><use href="#g65" x="69.5"/><use href="#g64" x="87.5"/></g>
<g transform="translate(386.95,644.39) scale(0.864,0.83)" stroke-width="1.5"><use href="#g4d" x="-90.51"/><use href="#g42" transform="translate(-66.51,8.5) scale(0.62)"/><use href="#g73" x="-37.49"/><use href="#g65" x="-20.49"/><use href="#g6c" x="-2.49"/><use href="#g65" x="5.51"/><use href="#g63" x="23.51"/><use href="#g74" x="41.51"/><use href="#g65" x="53.51"/><use href="#g64" x="71.51"/></g>
</g>
</svg>
</body></html>
